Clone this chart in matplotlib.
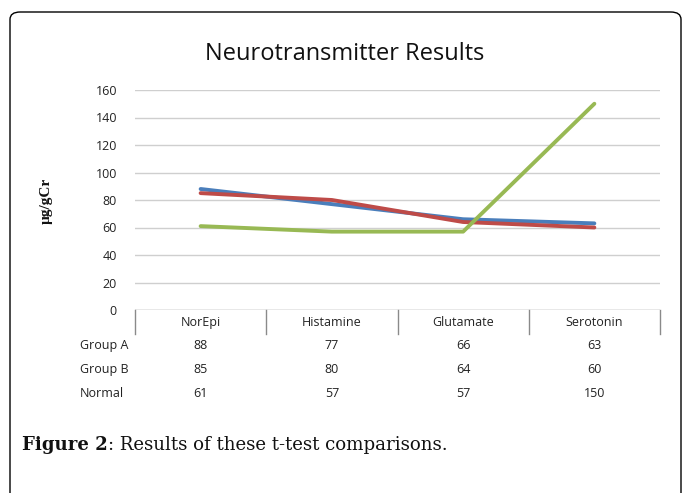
import matplotlib
matplotlib.use("Agg")
import matplotlib.pyplot as plt
from matplotlib.patches import FancyBboxPatch
from matplotlib.transforms import blended_transform_factory

categories = ["NorEpi", "Histamine", "Glutamate", "Serotonin"]
series_names = ["Group A", "Group B", "Normal"]
group_a = [88, 77, 66, 63]
group_b = [85, 80, 64, 60]
normal = [61, 57, 57, 150]
yticks = [0, 20, 40, 60, 80, 100, 120, 140, 160]
colors = ["#4a7ebb", "#be4b48", "#98b954"]

W, H = 683, 493
fig = plt.figure(figsize=(W / 100, H / 100), dpi=100)
fig.patch.set_facecolor("white")

# outer rounded frame
frame = FancyBboxPatch((10 / W, -0.1), (681 - 10) / W, (H - 12) / H + 0.1,
                       boxstyle="round,pad=0,rounding_size=0.015",
                       transform=fig.transFigure, fill=False,
                       edgecolor="black", linewidth=1.0)
fig.patches.append(frame)

left, right, top, bottom = 135, 660, 90, 310
ax = fig.add_axes([left / W, 1 - bottom / H, (right - left) / W, (bottom - top) / H])
ax.set_xlim(-0.5, 3.5)
ax.set_ylim(0, 160)
for s in ax.spines.values():
    s.set_visible(False)
ax.set_yticks(yticks)
ax.set_yticklabels([str(v) for v in yticks], fontsize=9, family="Open Sans", color="#222222")
ax.tick_params(axis="y", length=0, pad=13)
ax.set_xticks([])
for v in yticks[1:]:
    ax.axhline(v, color="#cfcfcf", linewidth=1.0, zorder=0)
ax.axhline(0, color="#8a8a8a", linewidth=1.0, zorder=1)

x = list(range(len(categories)))
for vals, c in zip([group_a, group_b, normal], colors):
    ax.plot(x, vals, color=c, linewidth=2.8, solid_capstyle="round", zorder=3)

# data table
trans = blended_transform_factory(ax.transData, fig.transFigure)
def fy(py):
    return 1 - py / H

for b in [-0.5, 0.5, 1.5, 2.5, 3.5]:
    fig.add_artist(plt.Line2D([b, b], [fy(310), fy(334)], transform=trans,
                              color="#8a8a8a", linewidth=1.0))
for i, cat in enumerate(categories):
    fig.text(i, fy(326), cat, transform=trans, ha="center", va="baseline",
             fontsize=9, family="Open Sans", color="#222222")
rows_y = [349, 373, 397]
for name, vals, ry in zip(series_names, [group_a, group_b, normal], rows_y):
    fig.text(80 / W, fy(ry), name, ha="left", va="baseline", fontsize=9,
             family="Open Sans", color="#222222")
    for i, v in enumerate(vals):
        fig.text(i, fy(ry), str(v), transform=trans, ha="center", va="baseline",
                 fontsize=9, family="Open Sans", color="#222222")

# title
fig.text(345 / W, fy(54), "Neurotransmitter Results", ha="center", va="center",
         fontsize=17, family="Open Sans", color="#111111")
# y label
fig.text(46 / W, fy(201), "µg/gCr", ha="center", va="center", rotation=90,
         fontsize=11, family="Liberation Serif", weight="bold", color="#111111")

# caption
t1 = fig.text(22 / W, fy(445), "Figure 2", ha="left", va="center", fontsize=13.1,
              family="DejaVu Serif", weight="bold", color="#111111")
fig.canvas.draw()
bb = t1.get_window_extent()
fig.text(bb.x1 / W, fy(445), ": Results of these t-test comparisons.", ha="left",
         va="center", fontsize=13.1, family="DejaVu Serif", color="#111111")

fig.savefig("out.png", dpi=100)
